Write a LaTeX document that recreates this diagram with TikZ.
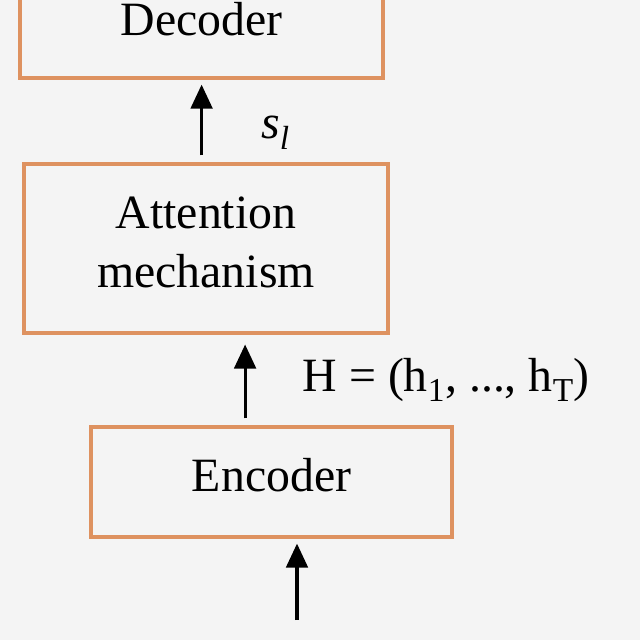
\documentclass[tikz,border=0pt]{standalone}
\usepackage{fontspec}
\setmainfont{Liberation Serif}
\usetikzlibrary{arrows.meta,positioning}
\definecolor{boxline}{RGB}{222,146,96}
\definecolor{paper}{RGB}{244,244,244}

\begin{document}
\begin{tikzpicture}[
  block/.style={draw=boxline, line width=2.3pt, fill=paper, align=center, font=\fontsize{34}{42}\selectfont},
  arr/.style={line width=2.2pt, -{Triangle[length=6mm,width=5.4mm]}},
  lbl/.style={inner sep=0pt, font=\fontsize{34}{40}\selectfont}
]
\fill[paper] (0,0) rectangle (16,-16);
\useasboundingbox (0,0) rectangle (16,-16);

% blocks
\node[block, minimum width=9.075cm, minimum height=2.95cm] (dec) at (5.04,-0.475) {Decoder};
\node[block, minimum width=9.1cm, minimum height=4.225cm, text depth=0.3cm] (att) at (5.15,-6.21) {Attention\\mechanism};
\node[block, minimum width=9.025cm, minimum height=2.75cm, text depth=0.35cm] (enc) at (6.79,-12.05) {Encoder};
\coordinate (src) at (7.425,-15.5);

% arrows
\draw[arr, shorten <=0.175cm, shorten >=0.125cm] (dec.south |- att.north) -- (dec.south)
  node[lbl, midway, right=1.45cm, yshift=-0.3cm] {\textit{s}\textsubscript{\textit{l}}};
\draw[arr, shorten <=0.175cm, shorten >=0.25cm] ([xshift=-0.6625cm]enc.north) -- ([xshift=-0.6625cm]enc.north |- att.south)
  node[lbl, midway, right=1.4cm] {H = (h\textsubscript{1}, ..., h\textsubscript{T})};
\draw[arr, shorten >=0.125cm] (src) -- (src |- enc.south);
\end{tikzpicture}
\end{document}
